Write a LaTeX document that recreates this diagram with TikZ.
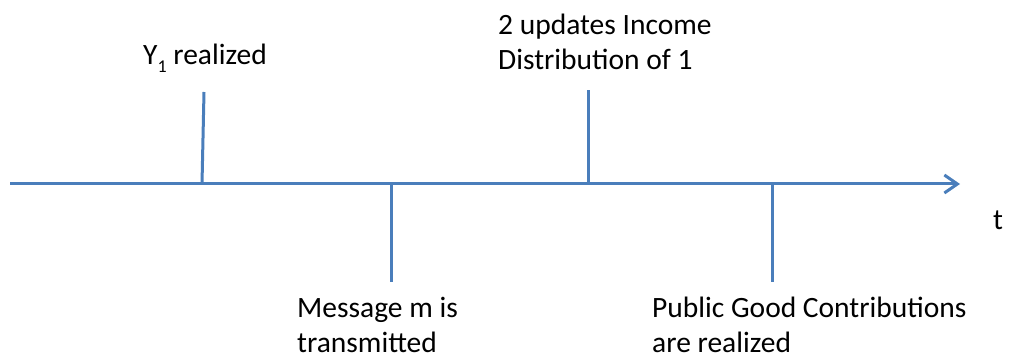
\documentclass[tikz,border=0pt]{standalone}
\usepackage{fontspec}
\setmainfont{Carlito}
\usetikzlibrary{arrows.meta}
\definecolor{axisblue}{RGB}{74,126,187}
\begin{document}
\begin{tikzpicture}[x=1pt,y=-1pt,
  blueline/.style={draw=axisblue,line width=3pt},
  lbl/.style={anchor=base west,inner sep=0pt,font=\fontsize{29.5}{35}\selectfont}]
\useasboundingbox (0,0) rectangle (1012,363);
\coordinate (start) at (10,184);
\coordinate (end) at (960,184);
\coordinate (t1b) at (202,184); \coordinate (t1t) at (204,92);
\coordinate (t2t) at (391,184); \coordinate (t2b) at (391,282);
\coordinate (t3b) at (588,184); \coordinate (t3t) at (588,90);
\coordinate (t4t) at (772,184); \coordinate (t4b) at (772,282);
\draw[blueline,-{Straight Barb[length=13pt,width=18pt]}] (start) -- (end);
\draw[blueline] (t1b) -- (t1t);
\draw[blueline] (t2t) -- (t2b);
\draw[blueline] (t3b) -- (t3t);
\draw[blueline] (t4t) -- (t4b);
\node[lbl] (y1) at (143,65) {Y\raisebox{-8pt}{\fontsize{18}{18}\selectfont 1} realized};
\node[lbl] (upd) at (498,35) {\vtop{\hbox{2 updates Income}\hbox{Distribution of 1}}};
\node[lbl] (msg) at (297,318) {\vtop{\hbox{Message m is}\hbox{transmitted}}};
\node[lbl] (pg) at (652,318) {\vtop{\hbox{Public Good Contributions}\hbox{are realized}}};
\node[lbl] (t) at (993,230) {t};
\end{tikzpicture}
\end{document}
